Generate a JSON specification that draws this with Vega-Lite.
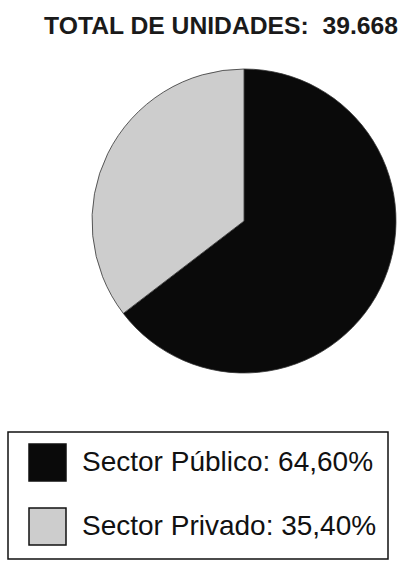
{
  "$schema": "https://vega.github.io/schema/vega-lite/v6.json",
  "width": 324,
  "height": 304,
  "autosize": {"type": "none"},
  "padding": {"left": 82, "top": 69, "right": 0, "bottom": 199},
  "background": "white",
  "title": {
    "text": "TOTAL DE UNIDADES:\u00a0 39.668",
    "anchor": "end",
    "frame": "group",
    "orient": "top",
    "font": "Liberation Sans",
    "fontSize": 24.7,
    "fontWeight": "bold",
    "color": "#1a1a1a",
    "offset": 29,
    "dx": -8
  },
  "data": {
    "values": [
      {"sector": "Sector Público", "pct": 64.6, "label": "Sector Público: 64,60%"},
      {"sector": "Sector Privado", "pct": 35.4, "label": "Sector Privado: 35,40%"}
    ]
  },
  "mark": {"type": "arc", "radius": 152, "stroke": "#333333", "strokeWidth": 0.8},
  "encoding": {
    "theta": {"field": "pct", "type": "quantitative", "stack": true},
    "order": {"field": "pct", "sort": "descending"},
    "color": {
      "field": "label",
      "type": "nominal",
      "scale": {"domain": ["Sector Público: 64,60%", "Sector Privado: 35,40%"], "range": ["#0a0a0a", "#cdcdcd"]},
      "legend": {
        "title": null,
        "orient": "none",
        "legendX": -74,
        "legendY": 363,
        "direction": "vertical",
        "symbolType": "square",
        "symbolSize": 1369,
        "symbolStrokeColor": "#111111",
        "symbolStrokeWidth": 1.5,
        "symbolOpacity": 1,
        "symbolOffset": 9,
        "labelFont": "Liberation Sans",
        "labelFontSize": 28,
        "labelColor": "#111111",
        "labelLimit": 400,
        "labelOffset": 15,
        "rowPadding": 21,
        "padding": 11,
        "strokeColor": "#111111",
        "fillColor": "white",
        "encode": {"legend": {"update": {"strokeWidth": {"value": 1.5}}}}
      }
    }
  },
  "config": {"view": {"stroke": null}}
}
